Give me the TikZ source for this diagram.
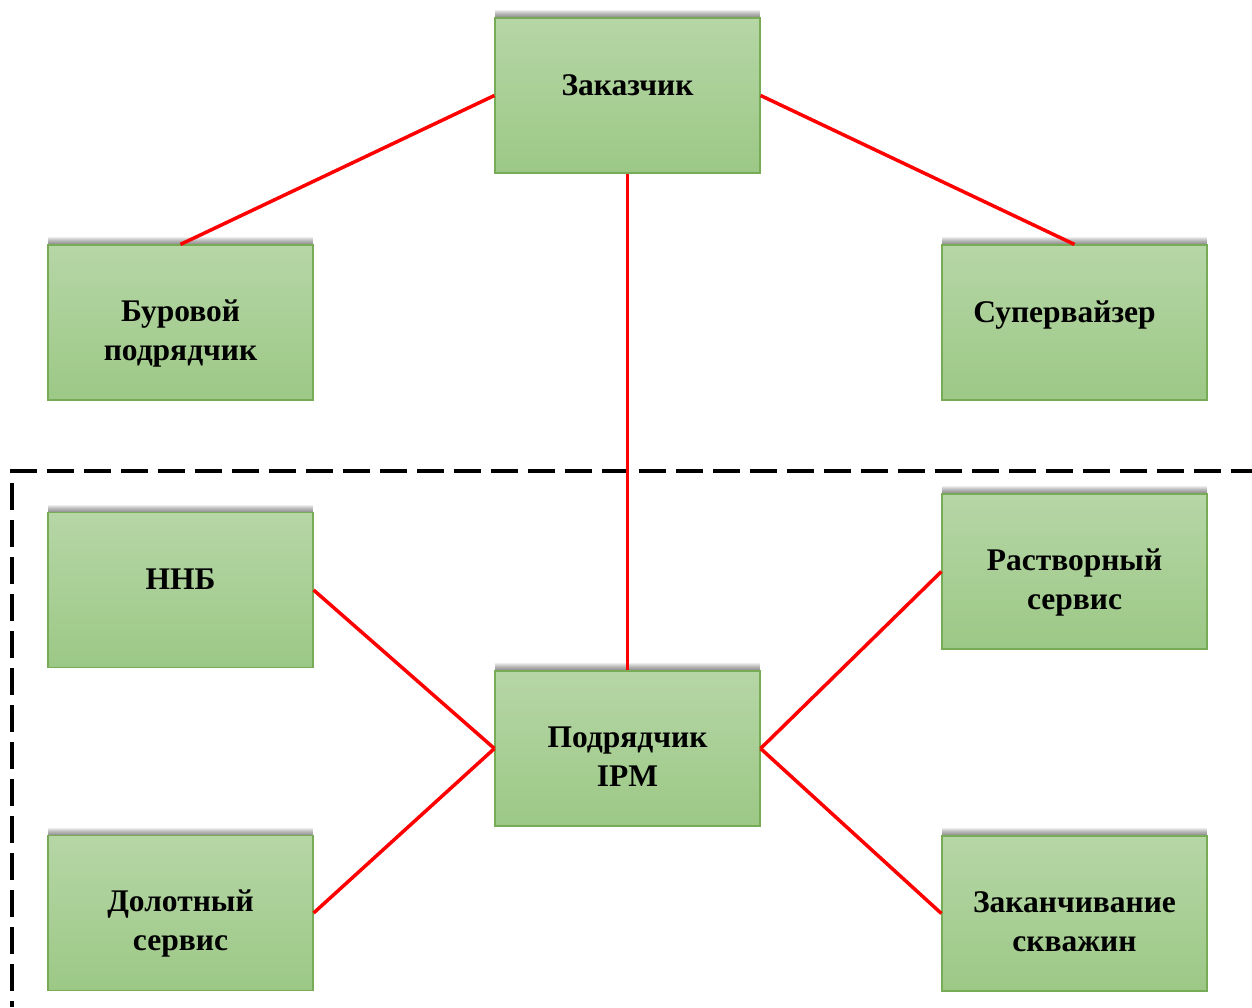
\documentclass[tikz,border=0pt]{standalone}
\usepackage{fontspec}
\setmainfont{Liberation Serif}
\usepackage{xcolor}
\usetikzlibrary{shadows}

\definecolor{boxtop}{HTML}{B6D6A6}
\definecolor{boxbot}{HTML}{9CC886}
\definecolor{boxline}{HTML}{77AB55}

% text of a box, moved up or down inside it
\newcommand{\boxtext}[2]{\raisebox{#1}[\height][\depth]{\begin{tabular}{@{}c@{}}#2\end{tabular}}}

\begin{document}
\begin{tikzpicture}[
        x=1pt, y=-1pt,
        every node/.style={font=\fontsize{31.5}{39}\selectfont\bfseries},
        halo/.style={general shadow={shadow yshift=#1, fill=black, opacity=0.07}},
        box/.style={draw=boxline, line width=1.2pt, top color=boxtop, bottom color=boxbot,
                    minimum width=265pt, minimum height=155pt, align=center, inner sep=0pt,
                    halo=1pt, halo=2pt, halo=3pt, halo=4pt, halo=5pt, halo=6pt, halo=7pt, halo=8pt},
        link/.style={draw=red, line width=3.5pt},
        frame/.style={draw=black, line width=3.3pt, dash pattern=on 27pt off 10pt},
    ]
    \useasboundingbox (0,0) rectangle (1252,1007);

    % ── Top level ──
    \node[box] (customer) at (627.5,95.5) {\boxtext{8pt}{Заказчик}};
    \node[box] (driller) at (180.5,322.5) {\boxtext{-10.5pt}{Буровой\\подрядчик}};
    \node[box] (supervisor) at (1074.5,322.5) {\boxtext{8pt}{Супервайзер\kern20pt}};

    % ── Service frame ──
    \draw[frame] (10,471) -- (1252,471);
    \draw[frame] (12,483) -- (12,1007);

    % ── Services ──
    \node[box] (nnb) at (180.5,590) {\boxtext{8pt}{ННБ}};
    \node[box] (mud) at (1074.5,571.5) {\boxtext{-10.5pt}{Растворный\\сервис}};
    \node[box] (ipm) at (627.5,748.5) {\boxtext{-10.5pt}{Подрядчик\\IPM}};
    \node[box] (bits) at (180.5,913) {\boxtext{-10.5pt}{Долотный\\сервис}};
    \node[box] (completion) at (1074.5,913.5) {\boxtext{-10.5pt}{Заканчивание\\скважин}};

    % ── Links ──
    \draw[link] (customer.west) -- (driller.north);
    \draw[link] (customer.east) -- (supervisor.north);
    \draw[link] (customer.south) -- (ipm.north);
    \draw[link] (nnb.east) -- (ipm.west);
    \draw[link] (bits.east) -- (ipm.west);
    \draw[link] (mud.west) -- (ipm.east);
    \draw[link] (completion.west) -- (ipm.east);

\end{tikzpicture}
\end{document}
